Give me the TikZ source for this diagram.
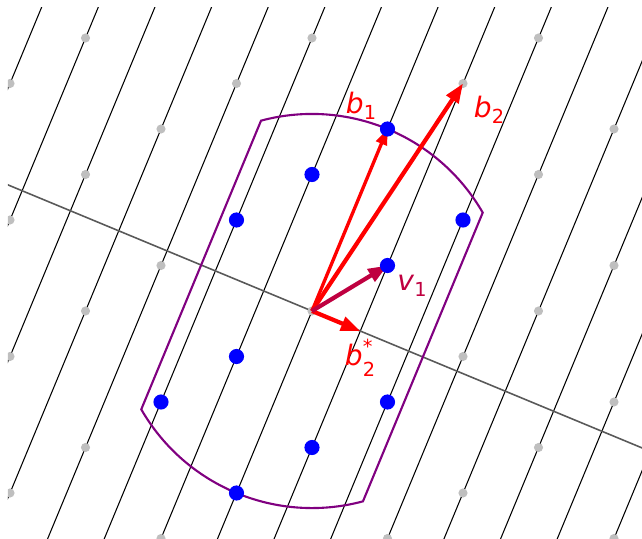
\documentclass[tikz,border=0pt]{standalone}
\usepackage{fontspec}
\setmainfont{DejaVu Sans}
\usetikzlibrary{calc,arrows.meta}
\newcommand{\veclab}[2]{\textit{#1}\raisebox{-0.35ex}{\fontsize{11}{11}\selectfont #2}}

\begin{document}
\begin{tikzpicture}[
  latline/.style={black, line width=0.6pt},
  lightdot/.style={fill=black!25},
  bluedot/.style={fill=blue},
  vecarrow/.style={-{Triangle[length=11pt,width=8pt]}, line width=2.4pt},
  veclabel/.style={font=\fontsize{16}{19}\selectfont}
]
\useasboundingbox (-6.24,-4.54) rectangle (6.6,6.22);
\coordinate (O) at (0,0);
\coordinate (B1) at (1.51,3.64);
\coordinate (B2) at (3.02,4.55);
\coordinate (V1) at (1.51,0.91);
\coordinate (gL) at ($(O)!-9cm!-90:(B1)$);
\coordinate (gR) at ($(O)!9cm!-90:(B1)$);
\coordinate (B2s) at ($(O)!(B2)!(gR)$);

\begin{scope}
\clip (-6.08,-4.54) rectangle (6.6,6.06);
% lines through the lattice, parallel to b1
\begin{scope}[x={(1.51cm,0.91cm)}, y={(0cm,2.73cm)}]
\foreach \k in {-9,...,9}
  \draw[latline] (\k-6,-6) -- (\k+6,6);
\end{scope}
\draw[black!65, line width=0.9pt] (gL) -- (gR);
\begin{scope}[x={(1.51cm,0.91cm)}, y={(0cm,2.73cm)}]
\foreach \a in {-5,...,5}
  \foreach \b in {-5,...,5}
    \fill[lightdot] (\a,\b) circle [radius=2.6pt];
\end{scope}
\end{scope}

% the region
\draw[violet, line width=1.2pt] (29.95:3.941) arc [start angle=29.95, end angle=104.99, radius=3.941cm]
  -- (209.95:3.941) arc [start angle=209.95, end angle=284.99, radius=3.941cm] -- cycle;

% vectors
\draw[vecarrow, red, line width=1.9pt, -{Triangle[length=9pt,width=6.5pt]}] (O) -- (B1);
\draw[vecarrow, red] (O) -- (B2);
\draw[vecarrow, red] (O) -- (B2s);
\draw[vecarrow, purple] (O) -- (V1);

% points inside the region
\begin{scope}[x={(1.51cm,0.91cm)}, y={(0cm,2.73cm)}]
\foreach \a/\b in {1/1, 0/1, -1/1, 2/0, 1/0, -1/0, -2/0, 1/-1, 0/-1, -1/-1}
  \fill[bluedot] (\a,\b) circle [radius=4.3pt];
\end{scope}

\node[veclabel, red] (lb1) at (0.98,4.10) {\veclab{b}{1}};
\node[veclabel, red] (lb2) at (3.54,4.02) {\veclab{b}{2}};
\node[veclabel, purple] (lv1) at (2.0,0.5) {\veclab{v}{1}};
\node[veclabel, red] (lb2s) at (0.96,-0.94) {\textit{b}\rlap{\raisebox{0.75ex}{\fontsize{11}{11}\selectfont *}}\raisebox{-0.75ex}{\fontsize{11}{11}\selectfont 2}};
\end{tikzpicture}
\end{document}
